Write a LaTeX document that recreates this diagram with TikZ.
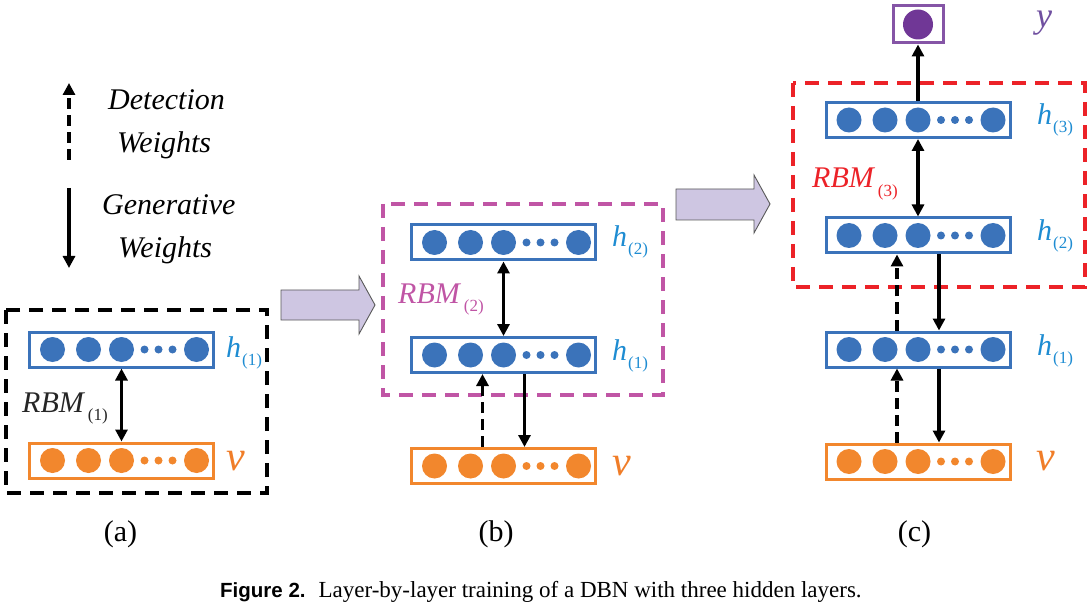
\documentclass[tikz,border=0pt]{standalone}
\usepackage{fontspec}
\setmainfont{Liberation Serif}
\newfontfamily\capsans{Liberation Sans}
\usetikzlibrary{arrows.meta}
\definecolor{lblue}{RGB}{59,115,186}
\definecolor{hblue}{RGB}{30,140,210}
\definecolor{lorange}{RGB}{242,135,45}
\definecolor{vorange}{RGB}{240,125,40}
\definecolor{lmag}{RGB}{192,85,165}
\definecolor{lred}{RGB}{236,34,40}
\definecolor{lpurple}{RGB}{112,55,150}
\definecolor{ypurple}{RGB}{112,80,160}
\definecolor{arrfill}{RGB}{206,198,226}
\tikzset{
 layerbox/.style={draw=#1, line width=3pt, minimum width=184pt, minimum height=35pt, inner sep=0pt, fill=white},
 conn/.style={line width=3.2pt, -{Triangle[length=12pt,width=12pt]}},
 dconn/.style={conn, dash pattern=on 11pt off 6pt},
 biconn/.style={line width=3.2pt, {Triangle[length=12pt,width=12pt]}-{Triangle[length=12pt,width=12pt]}},
 rbmbox/.style={line width=4pt, dash pattern=on 14pt off 9pt},
 bigarrow/.style={fill=arrfill, draw=black!65, line width=0.9pt},
 lab/.style={font=\fontsize{30}{30}\selectfont\itshape, inner sep=0pt, anchor=base west},
 vlab/.style={font=\fontsize{42}{42}\selectfont\itshape, inner sep=0pt, anchor=base west},
 legend/.style={font=\fontsize{30}{30}\selectfont\itshape, inner sep=0pt, anchor=base west},
 panel/.style={font=\fontsize{30}{30}\selectfont, inner sep=0pt, anchor=base}
}
\newcommand\mylayer[4]{%
 \node[layerbox=#4] (#1) at (#2,#3) {};
 \foreach \dx in {-69,-33,0,75} \fill[#4] ({#2+\dx},#3) circle[radius=12.5pt];
 \foreach \dx in {23,37,51} \fill[#4] ({#2+\dx},#3) circle[radius=4pt];
}
\newcommand\hsub[1]{\hspace{1pt}\raisebox{-8pt}{\fontsize{17}{17}\selectfont\upshape #1}}
\newcommand\rsub[1]{\hspace{4pt}\raisebox{-8.5pt}{\fontsize{17}{17}\selectfont\upshape #1}}
\begin{document}
\begin{tikzpicture}[x=1pt,y=-1pt]
\useasboundingbox (0,0) rectangle (1091,609);
% legend
\coordinate (d1) at (69,160);
\coordinate (d2) at (69,83);
\coordinate (g1) at (69,188);
\coordinate (g2) at (69,268);
\draw[dconn] (d1) -- (d2);
\draw[conn] (g1) -- (g2);
\node[legend] (t1) at (108,110) {Detection};
\node[legend] (t2) at (117,153) {Weights};
\node[legend] (t3) at (102,215) {Generative};
\node[legend] (t4) at (118,258) {Weights};
% panel (a)
\draw[rbmbox, black] (6,310) rectangle (267,493);
\mylayer{ha}{121.5}{349.5}{lblue}
\mylayer{va}{121.5}{460.5}{lorange}
\draw[biconn] (va.north) -- (ha.south);
\node[lab, text=hblue] (lha) at (226,357) {h\hsub{(1)}};
\node[vlab, text=vorange] (lva) at (226,470) {v};
\node[lab, text=black!85] (rbma) at (22,412) {RBM\rsub{(1)}};
\node[panel] (pa) at (120.5,541) {(a)};
% big arrows
\draw[bigarrow] (281,290) -- (359,290) -- (359,276) -- (375,305) -- (359,334) -- (359,320) -- (281,320) -- cycle;
\draw[bigarrow] (676,189) -- (754,189) -- (754,175) -- (770,204) -- (754,233) -- (754,220) -- (676,220) -- cycle;
% panel (b)
\draw[rbmbox, lmag] (383,204) rectangle (663,395);
\mylayer{h2b}{503.5}{242.5}{lblue}
\mylayer{h1b}{503.5}{355}{lblue}
\mylayer{vb}{503.5}{466}{lorange}
\draw[biconn] (h1b.north) -- (h2b.south);
\draw[dconn] ([xshift=-21pt]vb.north) -- ([xshift=-21pt]h1b.south);
\draw[conn] ([xshift=21pt]h1b.south) -- ([xshift=21pt]vb.north);
\node[lab, text=hblue] (lh2b) at (612,247) {h\hsub{(2)}};
\node[lab, text=hblue] (lh1b) at (612,360) {h\hsub{(1)}};
\node[vlab, text=vorange] (lvb) at (612,475) {v};
\node[lab, text=lmag] (rbmb) at (398,303) {RBM\rsub{(2)}};
\node[panel] (pb) at (496,541) {(b)};
% panel (c)
\draw[rbmbox, lred] (793,83) rectangle (1085,287);
\mylayer{h3c}{918}{120}{lblue}
\mylayer{h2c}{918}{235.5}{lblue}
\mylayer{h1c}{918}{349.5}{lblue}
\mylayer{vc}{918}{461.5}{lorange}
\node[draw=lpurple!85, line width=3pt, minimum width=50pt, minimum height=37pt, inner sep=0pt, fill=white] (yc) at (918,24.5) {};
\fill[lpurple] (yc.center) circle[radius=15pt];
\draw[conn] (h3c.north) -- (yc.south);
\draw[biconn] (h2c.north) -- (h3c.south);
\draw[dconn] ([xshift=-21pt]h1c.north) -- ([xshift=-21pt]h2c.south);
\draw[conn] ([xshift=21pt]h2c.south) -- ([xshift=21pt]h1c.north);
\draw[dconn] ([xshift=-21pt]vc.north) -- ([xshift=-21pt]h1c.south);
\draw[conn] ([xshift=21pt]h1c.south) -- ([xshift=21pt]vc.north);
\node[font=\fontsize{36}{36}\selectfont\itshape, inner sep=0pt, anchor=base west, text=ypurple] (lyc) at (1036,28) {y};
\node[lab, text=hblue] (lh3c) at (1037,125) {h\hsub{(3)}};
\node[lab, text=hblue] (lh2c) at (1037,241) {h\hsub{(2)}};
\node[lab, text=hblue] (lh1c) at (1037,355) {h\hsub{(1)}};
\node[vlab, text=vorange] (lvc) at (1036,470) {v};
\node[lab, text=lred] (rbmc) at (812,188) {RBM\rsub{(3)}};
\node[panel] (pc) at (914.5,541) {(c)};
% caption
\node[inner sep=0pt, anchor=base west] (cap) at (220,597) {{\capsans\bfseries\fontsize{20.5}{20.5}\selectfont Figure 2.}\hspace{13pt}{\fontsize{23}{23}\selectfont Layer-by-layer training of a DBN with three hidden layers.}};
\end{tikzpicture}
\end{document}
